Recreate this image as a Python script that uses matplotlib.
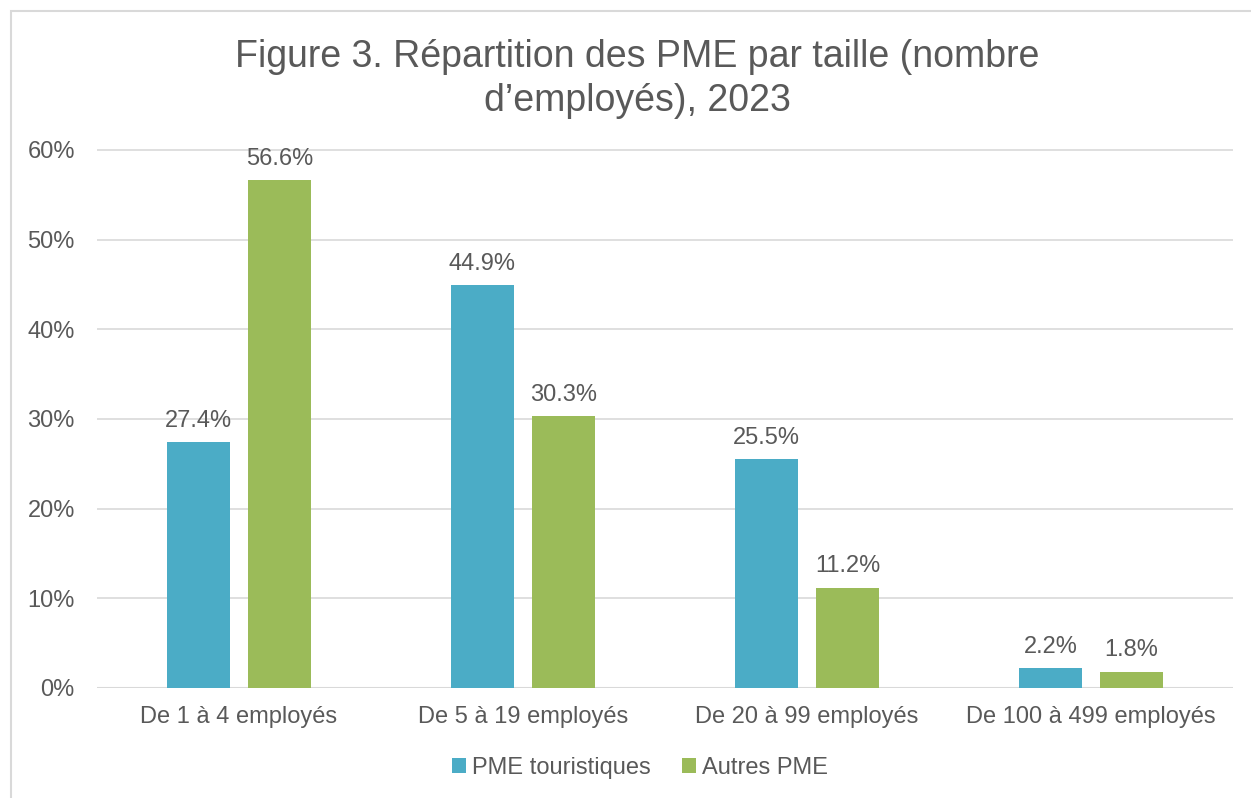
import numpy as np
import matplotlib.pyplot as plt
from matplotlib.patches import Rectangle

categories = ["De 1 à 4 employés", "De 5 à 19 employés", "De 20 à 99 employés", "De 100 à 499 employés"]
touristiques = [27.4, 44.9, 25.5, 2.2]
autres = [56.6, 30.3, 11.2, 1.8]
series_names = ["PME touristiques", "Autres PME"]

blue = "#4BACC6"
green = "#9BBB59"
txt = "#595959"

plt.rcParams['font.family'] = ['Liberation Sans', 'DejaVu Sans']

fig = plt.figure(figsize=(12.51, 7.98), dpi=100)
ax = fig.add_axes([97 / 1251, 1 - 688 / 798, 1136 / 1251, 538 / 798 * 62 / 60])

x = np.arange(len(categories))
w = 0.222
off = 0.143
b1 = ax.bar(x - off, touristiques, w, color=blue, label=series_names[0], zorder=2)
b2 = ax.bar(x + off, autres, w, color=green, label=series_names[1], zorder=2)

for bars, vals in ((b1, touristiques), (b2, autres)):
    for b, v in zip(bars, vals):
        ax.text(b.get_x() + b.get_width() / 2, v + 1.2, "{:.1f}%".format(v),
                ha="center", va="bottom", fontsize=17, color=txt)

ax.set_xlim(-0.5, 3.5)
ax.set_ylim(0, 62)
ax.set_yticks(np.arange(0, 61, 10))
ax.set_yticklabels(["{}%".format(t) for t in range(0, 61, 10)])
ax.set_xticks(x)
ax.set_xticklabels(categories)
ax.tick_params(axis="both", length=0, labelsize=17, colors=txt)
ax.tick_params(axis="y", pad=16)
ax.tick_params(axis="x", pad=13)
ax.grid(axis="y", color="#D9D9D9", linewidth=1.2, zorder=0)
ax.set_axisbelow(True)
for s in ax.spines.values():
    s.set_visible(False)
ax.axhline(0, color="#D9D9D9", linewidth=1.5, zorder=1)
ax.patch.set_alpha(0)

fig.text(637 / 1251, 1 - 79 / 798, "Figure 3. Répartition des PME par taille (nombre\nd’employés), 2023",
         ha="center", va="center", fontsize=27, color=txt, linespacing=1.3)

fig.legend(handles=[b1, b2], loc="center", bbox_to_anchor=(640 / 1251, 1 - 768 / 798),
           ncol=2, frameon=False, fontsize=17, handlelength=0.6, handleheight=0.6,
           handletextpad=0.25, columnspacing=1.3, labelcolor=txt)

fig.patches.append(Rectangle((11 / 1251, -0.01), 1.1, 1 - 11 / 798 + 0.01, transform=fig.transFigure,
                             fill=False, edgecolor="#D9D9D9", linewidth=1.5))

fig.savefig("out.png", dpi=100)
